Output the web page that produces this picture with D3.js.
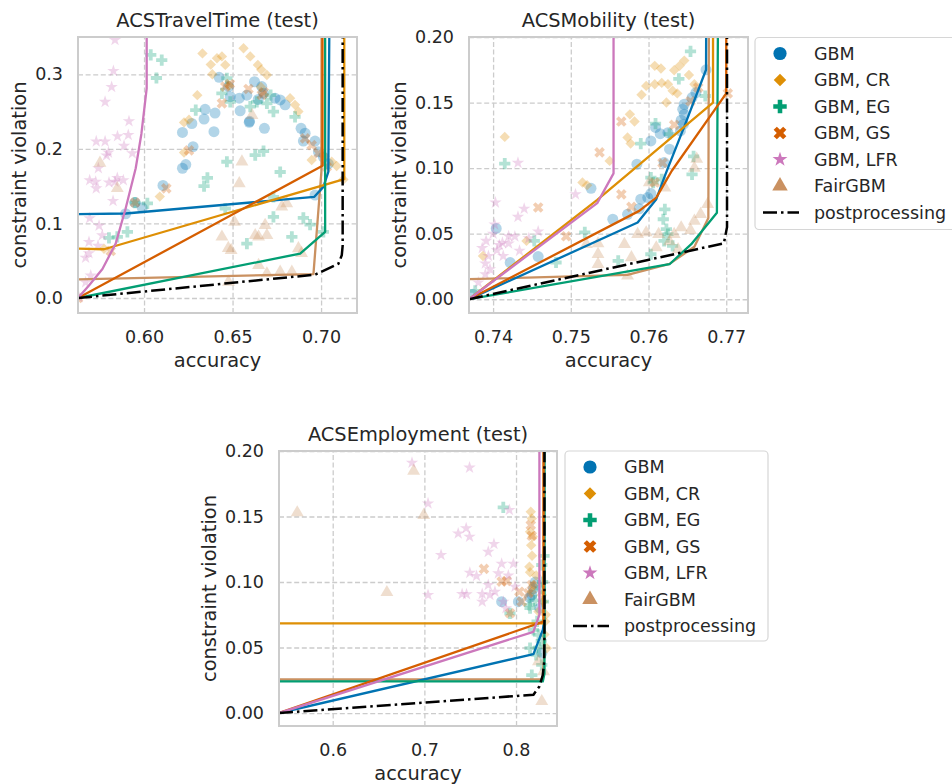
<!DOCTYPE html>
<html><head><meta charset="utf-8">
<script src="https://cdn.jsdelivr.net/npm/d3@7"></script>
<style>
body{margin:0;background:#fff}
svg text{font-family:"DejaVu Sans",sans-serif;fill:#262626}
</style>
</head><body>
<svg id="chart" width="952" height="784"></svg>
<script>
// ---------- series definitions ----------
const seriesNames = ["GBM", "GBM, CR", "GBM, EG", "GBM, GS", "GBM, LFR", "FairGBM"];
const postName = "postprocessing";
const seriesColors = ["#0173b2", "#de8f05", "#029e73", "#d55e00", "#cc78bc", "#ca9161"];
const seriesMarkers = ["circle", "diamond", "plus", "cross", "star", "triangle"];

// ---------- tick labels ----------
const ttXTicks = [0.60, 0.65, 0.70];
const ttYTicks = [0.0, 0.1, 0.2, 0.3];
const mobXTicks = [0.74, 0.75, 0.76, 0.77];
const mobYTicks = [0.00, 0.05, 0.10, 0.15, 0.20];
const empXTicks = [0.6, 0.7, 0.8];
const empYTicks = [0.00, 0.05, 0.10, 0.15, 0.20];

// ---------- ACSTravelTime (test): [accuracy, constraint violation] ----------
const ttGBM = [[0.5949,0.128],[0.599,0.121],[0.5896,0.113],[0.6107,0.151],[0.6217,0.174],[0.6236,0.179],[0.6277,0.203],[0.6217,0.222],[0.627,0.234],[0.6339,0.240],[0.6345,0.253],[0.6401,0.248],[0.6395,0.223],[0.6424,0.296],[0.6477,0.2835],[0.6487,0.270],[0.6538,0.268],[0.6581,0.272],[0.6543,0.251],[0.6624,0.290],[0.6665,0.2835],[0.6675,0.2745],[0.674,0.268],[0.6769,0.2656],[0.6797,0.259],[0.6594,0.2356],[0.668,0.2275],[0.6887,0.2275],[0.691,0.221],[0.69,0.2105],[0.6966,0.2105],[0.6985,0.196],[0.7013,0.189],[0.7041,0.180],[0.6966,0.138],[0.6596,0.237],[0.6645,0.2662]];
const ttCR = [[0.633,0.328],[0.6377,0.313],[0.6386,0.300],[0.6301,0.272],[0.6226,0.2355],[0.6254,0.239],[0.6226,0.195],[0.6089,0.136],[0.5774,0.066],[0.6562,0.335],[0.66,0.324],[0.6643,0.3126],[0.6662,0.306],[0.6694,0.299],[0.644,0.324],[0.6412,0.3215],[0.6459,0.3126],[0.6825,0.268],[0.6853,0.259],[0.6872,0.25],[0.6947,0.185],[0.706,0.1827],[0.7088,0.177],[0.7126,0.159],[0.648,0.285],[0.666,0.283],[0.702,0.19]];
const ttEG = [[0.6038,0.326],[0.610,0.319],[0.607,0.295],[0.6292,0.252],[0.6358,0.161],[0.6339,0.150],[0.6019,0.127],[0.5906,0.0887],[0.5802,0.0806],[0.5849,0.082],[0.5949,0.128],[0.6468,0.2947],[0.644,0.2745],[0.6487,0.263],[0.66,0.2566],[0.6637,0.263],[0.6694,0.261],[0.6731,0.250],[0.6853,0.243],[0.6628,0.1917],[0.6675,0.197],[0.6468,0.1827],[0.6769,0.169],[0.6731,0.1357],[0.6731,0.1088],[0.69,0.1075],[0.6938,0.0985],[0.6581,0.073],[0.6835,0.082],[0.6459,0.12],[0.7013,0.0887],[0.6715,0.272]];
const ttGS = [[0.6126,0.147],[0.6254,0.198],[0.5812,0.063],[0.6459,0.2835],[0.659,0.2803],[0.6665,0.2723],[0.644,0.261],[0.691,0.214],[0.6947,0.205],[0.6985,0.194],[0.7032,0.176],[0.6485,0.287],[0.6677,0.276],[0.5949,0.128],[0.5627,0.0]];
const ttLFR = [[0.5836,0.346],[0.5827,0.3045],[0.5817,0.283],[0.578,0.263],[0.5915,0.237],[0.585,0.217],[0.5911,0.2186],[0.573,0.210],[0.578,0.210],[0.5887,0.204],[0.5799,0.195],[0.5788,0.191],[0.5934,0.194],[0.5742,0.174],[0.5693,0.158],[0.5727,0.156],[0.573,0.147],[0.5802,0.155],[0.5849,0.161],[0.5836,0.156],[0.5883,0.158],[0.5825,0.130],[0.5693,0.107],[0.5746,0.097],[0.5764,0.084],[0.5689,0.075],[0.574,0.070],[0.5689,0.060],[0.567,0.054],[0.5699,0.030],[0.567,0.021],[0.5632,0.001]];
const ttFair = [[0.5751,0.181],[0.5849,0.147],[0.6553,0.1827],[0.6538,0.1536],[0.6511,0.102],[0.644,0.082],[0.6492,0.064],[0.6684,0.0976],[0.6694,0.084],[0.6628,0.084],[0.6647,0.082],[0.6778,0.1223],[0.6806,0.1267],[0.6647,0.044],[0.6694,0.0327],[0.6769,0.035],[0.6835,0.035],[0.6872,0.0663],[0.6477,0.0215],[0.661,0.245],[0.6476,0.0667],[0.689,0.06]];
const ttFrontGBM = [[0.5627,0.1124],[0.5896,0.1133],[0.6962,0.1357],[0.7013,0.149],[0.7041,0.169],[0.7051,0.5]];
const ttFrontCR = [[0.5627,0.0663],[0.5774,0.0654],[0.7131,0.1594],[0.7131,0.5]];
const ttFrontEG = [[0.5627,0],[0.6882,0.0596],[0.7023,0.0887],[0.7023,0.5]];
const ttFrontGS = [[0.5627,0],[0.7008,0.1773],[0.7008,0.5]];
const ttFrontLFR = [[0.5627,0],[0.569,0.017],[0.5765,0.039],[0.584,0.073],[0.5896,0.12],[0.5953,0.174],[0.5985,0.22],[0.6015,0.281],[0.6015,0.5]];
const ttFrontFair = [[0.5627,0.0251],[0.6957,0.032],[0.7002,0.17],[0.7004,0.5]];
const ttPost = [[0.5627,0],[0.6966,0.0313],[0.7098,0.046],[0.7117,0.0573],[0.7122,0.07],[0.7122,0.5]];

// ---------- ACSMobility (test) ----------
const mobGBM = [[0.7404,0.054],[0.7458,0.0325],[0.7422,0.028],[0.7374,0.0038],[0.7526,0.0846],[0.7674,0.175],[0.7661,0.1576],[0.7656,0.1538],[0.7646,0.1487],[0.7644,0.1449],[0.7646,0.141],[0.7642,0.1365],[0.7645,0.1335],[0.7641,0.1284],[0.7625,0.127],[0.7615,0.1263],[0.7609,0.131],[0.7603,0.1207],[0.762,0.1042],[0.7627,0.1144],[0.7585,0.103],[0.7599,0.0775],[0.7603,0.0806],[0.759,0.0763],[0.7573,0.0648],[0.7554,0.061],[0.7588,0.069]];
const mobCR = [[0.7415,0.1238],[0.7387,0.033],[0.7443,0.0445],[0.7515,0.089],[0.7521,0.087],[0.7608,0.178],[0.7616,0.176],[0.764,0.178],[0.7646,0.182],[0.7652,0.171],[0.7633,0.1746],[0.7625,0.164],[0.7608,0.164],[0.7617,0.165],[0.7597,0.1627],[0.7591,0.156],[0.7631,0.159],[0.7637,0.157],[0.7659,0.164],[0.7623,0.15],[0.7576,0.141],[0.7582,0.1355],[0.7573,0.1233],[0.7577,0.1187],[0.755,0.1055]];
const mobEG = [[0.7415,0.1035],[0.7453,0.0445],[0.7518,0.051],[0.7377,0.0064],[0.7481,0.028],[0.7654,0.189],[0.7639,0.168],[0.7609,0.134],[0.759,0.1187],[0.7627,0.126],[0.7658,0.109],[0.7656,0.0953],[0.7603,0.0928],[0.7606,0.089],[0.7617,0.0915],[0.7621,0.0686],[0.7619,0.061],[0.7623,0.0534],[0.7625,0.0496],[0.762,0.0445],[0.7631,0.0407],[0.7603,0.0343],[0.7561,0.0292],[0.7673,0.155]];
const mobGS = [[0.7458,0.07],[0.7494,0.048],[0.7565,0.1355],[0.7633,0.133],[0.7664,0.1614],[0.7654,0.151],[0.7618,0.104],[0.7537,0.112],[0.7565,0.08],[0.7578,0.0704],[0.7608,0.089],[0.7702,0.157]];
const mobLFR = [[0.7432,0.104],[0.7403,0.0737],[0.744,0.069],[0.7432,0.0628],[0.7402,0.057],[0.7391,0.0445],[0.7386,0.039],[0.74,0.05],[0.7408,0.0414],[0.7412,0.043],[0.742,0.048],[0.7428,0.0478],[0.742,0.0425],[0.7446,0.0465],[0.7458,0.0516],[0.7434,0.0369],[0.7413,0.033],[0.7405,0.0374],[0.7394,0.033],[0.739,0.0272],[0.7396,0.0229],[0.739,0.019],[0.7381,0.0127],[0.7506,0.080]];
const mobFair = [[0.7659,0.100],[0.7621,0.085],[0.7601,0.089],[0.7676,0.0724],[0.7667,0.0648],[0.7659,0.0597],[0.7654,0.0526],[0.7642,0.0546],[0.7633,0.0496],[0.7613,0.0496],[0.7586,0.0496],[0.7597,0.0508],[0.7569,0.042],[0.7535,0.0424],[0.7535,0.0343],[0.7578,0.0318],[0.7535,0.0267],[0.7638,0.038],[0.761,0.0394],[0.7627,0.044],[0.7573,0.0178],[0.752,0.042],[0.7662,0.107]];
const mobFrontGBM = [[0.7369,0],[0.7586,0.0585],[0.761,0.0763],[0.7621,0.0941],[0.7646,0.1316],[0.7674,0.175],[0.7676,0.5]];
const mobFrontCR = [[0.7369,0],[0.7534,0.0758],[0.7683,0.15],[0.7683,0.5]];
const mobFrontEG = [[0.7369,0],[0.7627,0.0267],[0.7655,0.042],[0.7688,0.066],[0.7692,0.5]];
const mobFrontGS = [[0.7369,0],[0.7588,0.0674],[0.761,0.0775],[0.763,0.098],[0.77,0.157],[0.77,0.5]];
const mobFrontLFR = [[0.7369,0],[0.7534,0.0733],[0.7555,0.096],[0.7555,0.5]];
const mobFrontFair = [[0.7369,0.0153],[0.7573,0.0186],[0.7627,0.027],[0.7659,0.04],[0.7677,0.062],[0.7679,0.5]];
const mobPost = [[0.7369,0],[0.7697,0.0427],[0.7701,0.055],[0.7701,0.5]];

// ---------- ACSEmployment (test) ----------
const empGBM = [[0.7843,0.085],[0.8026,0.085],[0.8172,0.0901],[0.819,0.095],[0.8281,0.0457],[0.815,0.088],[0.821,0.1],[0.826,0.08]];
const empCR = [[0.8161,0.1536],[0.8172,0.1485],[0.8153,0.1383],[0.8182,0.1345],[0.8146,0.1117],[0.8153,0.1074],[0.819,0.0977],[0.8172,0.0926],[0.8281,0.0901],[0.8245,0.0774],[0.8318,0.0698],[0.8336,0.0495],[0.8165,0.128],[0.8175,0.12],[0.822,0.105],[0.8295,0.085],[0.831,0.06],[0.8325,0.075]];
const empEG = [[0.7861,0.157],[0.7934,0.076],[0.8153,0.08],[0.819,0.0635],[0.8245,0.0596],[0.8153,0.0495],[0.8219,0.0444],[0.8172,0.029],[0.8281,0.0368],[0.8299,0.085],[0.8263,0.095],[0.8281,0.113],[0.8208,0.086],[0.8146,0.0825],[0.823,0.07],[0.8275,0.055],[0.8305,0.12],[0.829,0.1],[0.825,0.05]];
const empGS = [[0.8161,0.1434],[0.8172,0.1353],[0.765,0.110],[0.7843,0.1003],[0.7898,0.1008],[0.8036,0.0926],[0.8062,0.085],[0.8172,0.0977],[0.8135,0.0914],[0.7934,0.0762]];
const empLFR = [[0.6865,0.191],[0.7493,0.1873],[0.704,0.16],[0.7369,0.137],[0.7456,0.141],[0.7493,0.1345],[0.7182,0.1206],[0.7496,0.107],[0.7569,0.1046],[0.704,0.0901],[0.7412,0.0909],[0.746,0.0906],[0.7631,0.0909],[0.7631,0.085],[0.7927,0.155],[0.7759,0.129],[0.7697,0.123],[0.7843,0.114],[0.7971,0.114],[0.7807,0.1066],[0.7916,0.105],[0.7697,0.0977],[0.777,0.0926],[0.7715,0.0901],[0.7989,0.0964],[0.7861,0.085],[0.789,0.080]];
const empFair = [[0.5613,0.153],[0.6883,0.1848],[0.6993,0.151],[0.6591,0.0921],[0.8245,0.0393],[0.83,0.0317],[0.8281,0.0089]];
const empFrontGBM = [[0.5414,0],[0.819,0.045],[0.8292,0.0635],[0.8307,0.07],[0.8307,0.5]];
const empFrontCR = [[0.5414,0.0685],[0.8303,0.0685],[0.8303,0.5]];
const empFrontEG = [[0.5414,0.0241],[0.8292,0.0241],[0.831,0.03],[0.831,0.5]];
const empFrontGS = [[0.5414,0],[0.83,0.0698],[0.8303,0.5]];
const empFrontLFR = [[0.5414,0],[0.8189,0.062],[0.8255,0.075],[0.8255,0.5]];
const empFrontFair = [[0.5414,0.0256],[0.829,0.0256],[0.8305,0.04],[0.8305,0.5]];
const empPost = [[0.5414,0],[0.819,0.014],[0.8255,0.0203],[0.8292,0.029],[0.8307,0.039],[0.831,0.06],[0.831,0.5]];

// ---------- panels (layout) ----------
const panels = [
  {title:"ACSTravelTime (test)", box:[78,37,357,313], xd:[0.5627,0.7203], yd:[-0.0201,0.35],
   xt:ttXTicks, yt:ttYTicks, xf:".2f", yf:".1f", ylabX:19,
   pts:[ttGBM,ttCR,ttEG,ttGS,ttLFR,ttFair], fronts:[ttFrontGBM,ttFrontCR,ttFrontEG,ttFrontGS,ttFrontLFR,ttFrontFair], post:ttPost, legend:null},
  {title:"ACSMobility (test)", box:[469,37,748,313], xd:[0.7369,0.7728], yd:[-0.0105,0.2],
   xt:mobXTicks, yt:mobYTicks, xf:".2f", yf:".2f", ylabX:399,
   pts:[mobGBM,mobCR,mobEG,mobGS,mobLFR,mobFair], fronts:[mobFrontGBM,mobFrontCR,mobFrontEG,mobFrontGS,mobFrontLFR,mobFrontFair], post:mobPost, legend:[755,37.5,215,192]},
  {title:"ACSEmployment (test)", box:[279,451,557,726], xd:[0.5414,0.8447], yd:[-0.0099,0.2],
   xt:empXTicks, yt:empYTicks, xf:".1f", yf:".2f", ylabX:209,
   pts:[empGBM,empCR,empEG,empGS,empLFR,empFair], fronts:[empFrontGBM,empFrontCR,empFrontEG,empFrontGS,empFrontLFR,empFrontFair], post:empPost, legend:[565,451,203,190]}
];
// order in which frontier lines are drawn (FairGBM underneath)
const frontOrder = [5, 0, 1, 2, 3, 4];

function markerPath(kind, k) {
  if (kind === "circle") return d3.symbol(d3.symbolCircle, 95*k*k)();
  if (kind === "diamond") { const h=5.2*k; return `M0,${-h}L${h},0L0,${h}L${-h},0Z`; }
  if (kind === "plus" || kind === "cross") {
    const a=5.6*k, b=1.9*k;
    return `M${-b},${-a}L${b},${-a}L${b},${-b}L${a},${-b}L${a},${b}L${b},${b}L${b},${a}L${-b},${a}L${-b},${b}L${-a},${b}L${-a},${-b}L${-b},${-b}Z`;
  }
  if (kind === "star") return d3.symbol(d3.symbolStar, 48*k*k)();
  if (kind === "triangle") return d3.symbol(d3.symbolTriangle, 72*k*k)();
}

const svg = d3.select("#chart");
const defs = svg.append("defs");
const tickFont = 17.5, labelFont = 19.4;

panels.forEach((p, pi) => {
  const [x0,y0,x1,y1] = p.box;
  const x = d3.scaleLinear().domain(p.xd).range([x0,x1]);
  const y = d3.scaleLinear().domain(p.yd).range([y1,y0]);
  const g = svg.append("g");

  defs.append("clipPath").attr("id","clip"+pi).append("rect")
    .attr("x",x0).attr("y",y0).attr("width",x1-x0).attr("height",y1-y0);

  // grid
  const gx = g.append("g").attr("transform",`translate(0,${y1})`)
    .call(d3.axisBottom(x).tickValues(p.xt).tickSize(-(y1-y0)).tickFormat(""));
  const gy = g.append("g").attr("transform",`translate(${x0},0)`)
    .call(d3.axisLeft(y).tickValues(p.yt).tickSize(-(x1-x0)).tickFormat(""));
  [gx,gy].forEach(a => {
    a.select(".domain").remove();
    a.selectAll(".tick line").attr("stroke","#cccccc").attr("stroke-width",1.3).attr("stroke-dasharray","5,2.6");
  });

  // tick labels
  const ax = g.append("g").attr("transform",`translate(0,${y1})`)
    .call(d3.axisBottom(x).tickValues(p.xt).tickSize(0).tickPadding(17.6).tickFormat(d3.format(p.xf)));
  const ay = g.append("g").attr("transform",`translate(${x0},0)`)
    .call(d3.axisLeft(y).tickValues(p.yt).tickSize(0).tickPadding(15).tickFormat(d3.format(p.yf)));
  [ax,ay].forEach(a => {
    a.select(".domain").remove();
    a.selectAll("text").attr("font-size",tickFont).attr("font-family","DejaVu Sans").attr("fill","#262626");
  });

  const plot = g.append("g").attr("clip-path",`url(#clip${pi})`);
  // scatter
  p.pts.forEach((arr, si) => {
    plot.append("g").selectAll("path").data(arr).join("path")
      .attr("d", markerPath(seriesMarkers[si], 1))
      .attr("transform", d => `translate(${x(d[0])},${y(d[1])})` + (seriesMarkers[si]==="cross" ? " rotate(45)" : ""))
      .attr("fill", seriesColors[si]).attr("fill-opacity", 0.3);
  });
  // fronts
  const line = d3.line().x(d => x(d[0])).y(d => y(d[1]));
  frontOrder.forEach(si => {
    plot.append("path").attr("d", line(p.fronts[si])).attr("fill","none")
      .attr("stroke", seriesColors[si]).attr("stroke-width", 2.3).attr("stroke-linejoin","round");
  });
  plot.append("path").attr("d", line(p.post)).attr("fill","none")
    .attr("stroke","#000").attr("stroke-width",2.5).attr("stroke-dasharray","14,4,2.5,4");

  // frame
  g.append("rect").attr("x",x0).attr("y",y0).attr("width",x1-x0).attr("height",y1-y0)
    .attr("fill","none").attr("stroke","#cccccc").attr("stroke-width",2);

  // labels
  g.append("text").attr("x",(x0+x1)/2).attr("y",y0-10).attr("text-anchor","middle")
    .attr("font-size",labelFont).text(p.title);
  g.append("text").attr("x",(x0+x1)/2).attr("y",y1+54).attr("text-anchor","middle")
    .attr("font-size",labelFont).text("accuracy");
  g.append("text").attr("transform",`translate(${p.ylabX},${(y0+y1)/2}) rotate(-90)`)
    .attr("text-anchor","middle").attr("dominant-baseline","central")
    .attr("font-size",labelFont).text("constraint violation");

  // legend
  if (p.legend) {
    const [lx,ly,lw,lh] = p.legend;
    const lg = svg.append("g");
    lg.append("rect").attr("x",lx).attr("y",ly).attr("width",lw).attr("height",lh)
      .attr("rx",4).attr("fill","#fff").attr("fill-opacity",0.8).attr("stroke","#d6d6d6").attr("stroke-width",1.2);
    const items = seriesNames.concat([postName]);
    items.forEach((name, i) => {
      const cy = ly + 16 + i*26.5;
      if (i < seriesNames.length) {
        lg.append("path").attr("d", markerPath(seriesMarkers[i], 1.2))
          .attr("transform", `translate(${lx+25},${cy})` + (seriesMarkers[i]==="cross" ? " rotate(45)" : ""))
          .attr("fill", seriesColors[i]);
      } else {
        lg.append("line").attr("x1",lx+8).attr("x2",lx+44).attr("y1",cy).attr("y2",cy)
          .attr("stroke","#000").attr("stroke-width",2.5).attr("stroke-dasharray","14,4,2.5,4");
      }
      lg.append("text").attr("x",lx+59).attr("y",cy).attr("dominant-baseline","central")
        .attr("font-size",tickFont).text(name);
    });
  }
});
</script>
</body></html>
